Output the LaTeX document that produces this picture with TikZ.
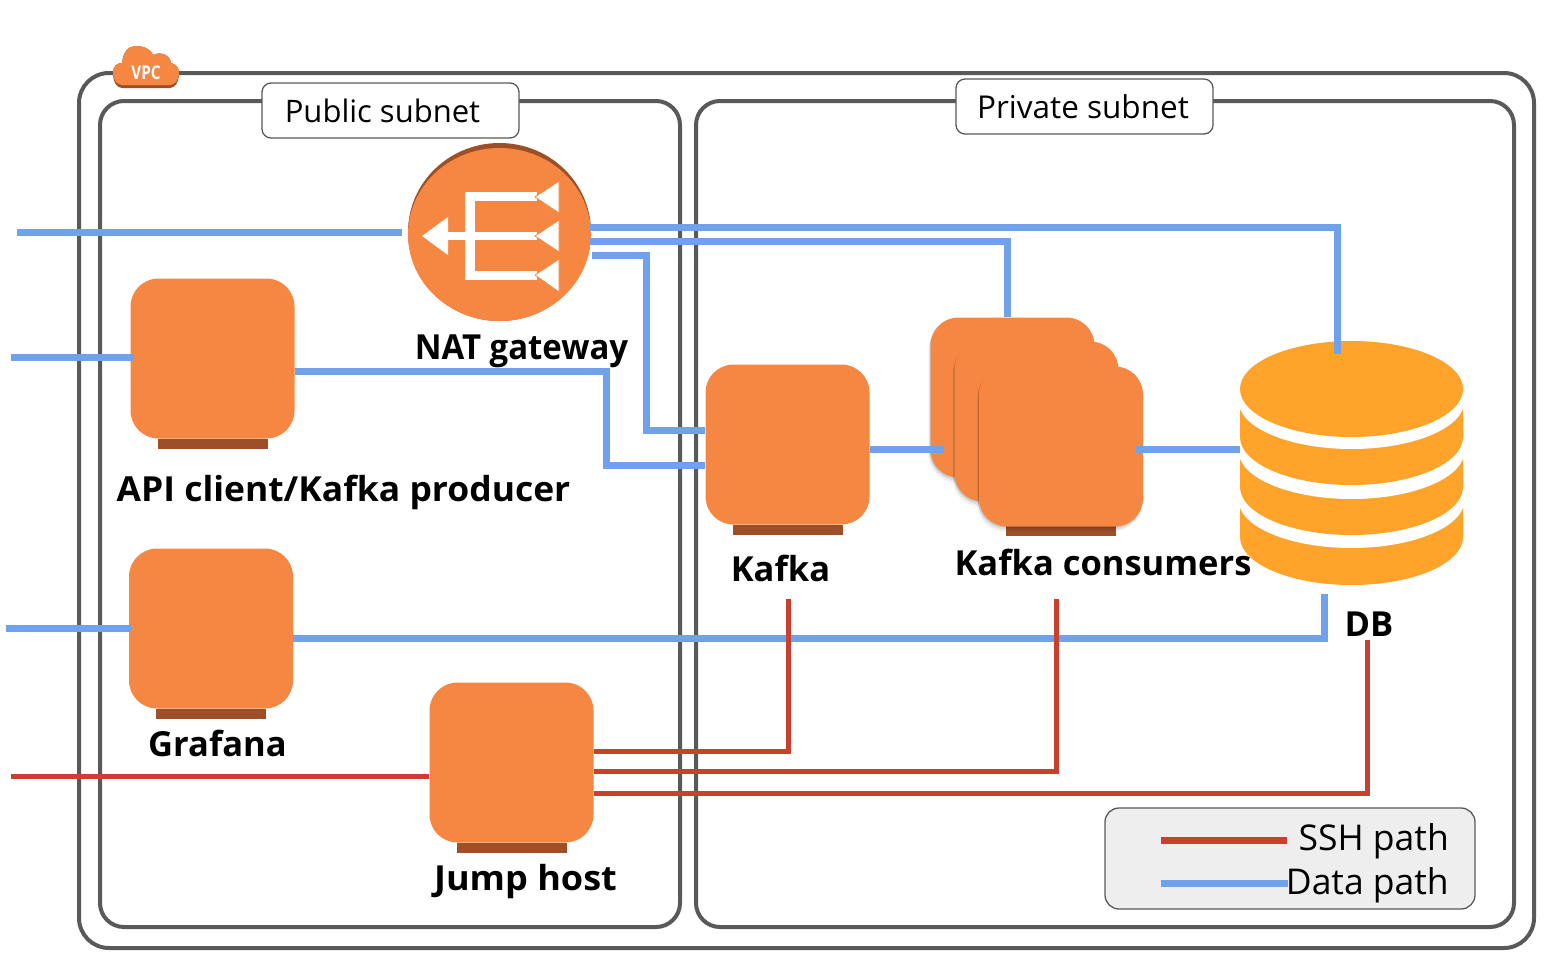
\documentclass[tikz,border=0pt]{standalone}
\usepackage{fontspec}
\setmainfont{Open Sans}
\usetikzlibrary{positioning,shadows}
\definecolor{cardorange}{HTML}{F58742}
\definecolor{carddark}{HTML}{9D5027}
\definecolor{dborange}{HTML}{FFA32A}
\definecolor{framegray}{HTML}{595959}
\definecolor{datablue}{HTML}{70A1EB}
\definecolor{sshred}{HTML}{C9412E}
\definecolor{legendgray}{HTML}{EEEEEE}

\begin{document}
\begin{tikzpicture}[
			x=1pt,y=-1pt,
			frame/.style={
				rectangle,draw=framegray,line width=4pt,
				rounded corners=24pt,inner sep=0pt
			},
			tag/.style={
				rectangle,draw=framegray,fill=white,line width=1.3pt,
				rounded corners=9pt,minimum width=257pt,minimum height=55pt,
				inner sep=0pt,font=\fontsize{31}{36}\selectfont
			},
			card/.style={
				rectangle,fill=cardorange,rounded corners=28pt,
				minimum width=164pt,minimum height=160pt,inner sep=0pt
			},
			cardbase/.style={
				rectangle,fill=carddark,minimum width=110pt,
				minimum height=10pt,inner sep=0pt
			},
			soft/.style={
				general shadow={shadow xshift=-2pt,shadow yshift=-5pt,
				fill=black,opacity=0.06},
				general shadow={shadow xshift=-1pt,shadow yshift=-3pt,
				fill=black,opacity=0.08},
				general shadow={shadow xshift=-1pt,shadow yshift=-1pt,
				fill=black,opacity=0.1}
			},
			caption/.style={
				anchor=base,inner sep=0pt,
				font=\fontsize{34.5}{40}\selectfont\bfseries
			},
			legendtext/.style={
				anchor=base east,inner sep=0pt,
				font=\fontsize{35.5}{40}\selectfont
			},
			data/.style={draw=datablue,line width=7pt},
			ssh/.style={draw=sshred,line width=5pt}
			]
			
			\useasboundingbox (0,0) rectangle (1556,954);
			
			\node[frame,minimum width=1455pt,minimum height=875pt,rounded corners=30pt]
			(vpc) at (806.5,510.5) {};
			
			\node[frame,minimum width=580pt,minimum height=826pt] (public) at (390,514) {};
			
			\node[frame,minimum width=818pt,minimum height=826pt] (private) at (1105,514) {};
			
			\node[tag] (publictag) at (390.5,110.5) {Public subnet\hspace*{16pt}};
			
			\node[tag] (privatetag) at (1084.5,106.5) {\fontsize{31.5}{36}\selectfont Private subnet\hspace*{3pt}};
			
			\fill[carddark] (113,73) .. controls (113,66) and (117,63) .. (122,63)
			.. controls (123,53) and (128,46) .. (135,46)
			.. controls (144,46) and (151,49) .. (153,55)
			.. controls (161,51) and (170,55) .. (171,63)
			.. controls (176,64) and (179,68) .. (179,73)
			.. controls (179,82) and (175,88) .. (170,88)
			-- (122,88) .. controls (117,88) and (113,82) .. (113,73) -- cycle;
			\fill[cardorange] (113,72) .. controls (113,66) and (117,63) .. (122,63)
			.. controls (123,53) and (128,46) .. (135,46)
			.. controls (144,46) and (151,49) .. (153,55)
			.. controls (161,51) and (170,55) .. (171,63)
			.. controls (176,64) and (179,68) .. (179,72)
			.. controls (179,80) and (175,85) .. (170,85)
			-- (122,85) .. controls (117,85) and (113,80) .. (113,72) -- cycle;
			\node[text=white,inner sep=0pt,font=\fontsize{19}{22}\selectfont\bfseries,xscale=0.8]
			(vpctext) at (146,72.5) {VPC};
			
			\fill[carddark] (499.5,232) ellipse [x radius=91.5,y radius=89];
			\node[circle,fill=cardorange,minimum size=173pt,inner sep=0pt,xscale=1.058]
			(gate) at (499.5,234.5) {};
			\fill[white] (465,192) rectangle (537,201);
			\fill[white] (465,271) rectangle (537,280);
			\fill[white] (448,232) rectangle (537,240);
			\fill[white] (465,192) rectangle (475,280);
			\fill[white] (422,236) -- (448,217) -- (448,255) -- cycle;
			\fill[white,draw=cardorange,line width=0.8pt] (535,197) -- (559,181) -- (559,213) -- cycle;
			\fill[white,draw=cardorange,line width=0.8pt] (535,236) -- (559,220) -- (559,252) -- cycle;
			\fill[white,draw=cardorange,line width=0.8pt] (535,275) -- (559,259) -- (559,292) -- cycle;
			
			\node[card] (api) at (212.5,358.5) {};
			\node[cardbase,below=0pt of api] (apibase) {};
			
			\node[card] (grafana) at (211,628.5) {};
			\node[cardbase,below=0pt of grafana] (grafanabase) {};
			
			\node[card] (jump) at (511.5,762.5) {};
			\node[cardbase,below=0pt of jump] (jumpbase) {};
			
			\node[card] (kafka) at (787.5,444.5) {};
			\node[cardbase,below=0pt of kafka] (kafkabase) {};
			
			\node[card,soft] (consumerc) at (1012.5,397.5) {};
			
			\draw[data] ([yshift=-4.5pt]kafka.east) -- ([xshift=74pt,yshift=-4.5pt]kafka.east);
			
			\node[card,soft] (consumerb) at (1036.5,421.5) {};
			\node[cardbase] (consumerbase) at (1060.5,531) {};
			\node[card,soft] (consumera) at (1061,446.5) {};
			
			\node[inner sep=0pt,minimum width=223pt,minimum height=244pt] (db) at (1351.5,463) {};
			\fill[dborange] (1240,503) -- (1463,503) -- (1463,537) arc [start angle=0,end angle=180,x radius=111.5,y radius=48] -- cycle;
			\fill[white] (1351.5,500) ellipse [x radius=113,y radius=48];
			\fill[dborange] (1240,453) -- (1463,453) -- (1463,487) arc [start angle=0,end angle=180,x radius=111.5,y radius=48] -- cycle;
			\fill[white] (1351.5,451) ellipse [x radius=113,y radius=48];
			\fill[dborange] (1240,402) -- (1463,402) -- (1463,437) arc [start angle=0,end angle=180,x radius=111.5,y radius=48] -- cycle;
			\fill[white] (1351.5,401) ellipse [x radius=113,y radius=48];
			\fill[dborange] (1351.5,389) ellipse [x radius=111.5,y radius=48];
			
			\coordinate (gatein) at (17,232);
			\coordinate (apiin) at (11,357);
			\coordinate (grafanain) at (6,628);
			\coordinate (jumpin) at (11,776);
			
			\draw[data] (gatein) -- ([xshift=-6pt,yshift=2.5pt]gate.west);
			\draw[data] ([xshift=-1pt,yshift=7.5pt]gate.east) -| ([xshift=-14.5pt,yshift=-13pt]db.north);
			\draw[data] ([xshift=-1pt,yshift=-6.5pt]gate.east) -| ([xshift=-5.5pt]consumerc.north);
			\draw[data] ([xshift=1pt,yshift=-20.5pt]gate.east) -| ([xshift=-59pt,yshift=14.5pt]kafka.west) -- ([yshift=14.5pt]kafka.west);
			\draw[data] (apiin) -- ([xshift=4pt,yshift=1.5pt]api.west);
			\draw[data] ([yshift=-12.5pt]api.east) -| ([xshift=-99pt,yshift=-20.5pt]kafka.west) -- ([yshift=-20.5pt]kafka.west);
			\draw[data] ([xshift=-7pt,yshift=-2.5pt]consumera.east) -- ([yshift=14pt]db.west);
			\draw[data] (grafanain) -- ([xshift=2pt,yshift=0.5pt]grafana.west);
			\draw[data] ([yshift=-9.5pt]grafana.east) -| ([xshift=-27.5pt,yshift=-9pt]db.south);
			
			\draw[ssh] (jumpin) -- ([yshift=-13.5pt]jump.west);
			\draw[ssh] ([yshift=11.5pt]jump.east) -| ([xshift=0.5pt,yshift=-74pt]kafka.south);
			\draw[ssh] ([yshift=-8.5pt]jump.east) -| ([xshift=-5pt,yshift=-72pt]consumera.south);
			\draw[ssh] ([yshift=-30.5pt]jump.east) -| ([xshift=15.5pt,yshift=-55pt]db.south);
			
			\node[caption,xscale=0.955] (gatelabel) at (521.5,359.5) {NAT gateway};
			\node[caption,xscale=1.027] (apilabel) at (343.5,501) {API client/Kafka producer};
			\node[caption] (grafanalabel) at (217.5,756) {Grafana};
			\node[caption,xscale=1.045] (jumplabel) at (525.5,890) {Jump host};
			\node[caption] (kafkalabel) at (780.5,581) {Kafka};
			\node[caption] (consumerlabel) at (1103,575.5) {Kafka consumers};
			\node[caption] (dblabel) at (1369,636) {DB};
			
			\node[rectangle,draw=framegray,fill=legendgray,line width=1.3pt,rounded corners=14pt,
			minimum width=370pt,minimum height=101pt,inner sep=0pt] (legend) at (1290,858.5) {};
			
			\coordinate (sshstart) at (1161,840);
			\coordinate (sshend) at (1287,840);
			\coordinate (datastart) at (1161,883);
			\coordinate (dataend) at (1288,883);
			
			\draw[draw=sshred,line width=7pt] (sshstart) -- (sshend);
			\draw[data] (datastart) -- (dataend);
			
			\node[legendtext] (sshlabel) at (1449,850) {SSH path};
			\node[legendtext] (datalabel) at (1449,894) {Data path};
			
		\end{tikzpicture}
\end{document}
